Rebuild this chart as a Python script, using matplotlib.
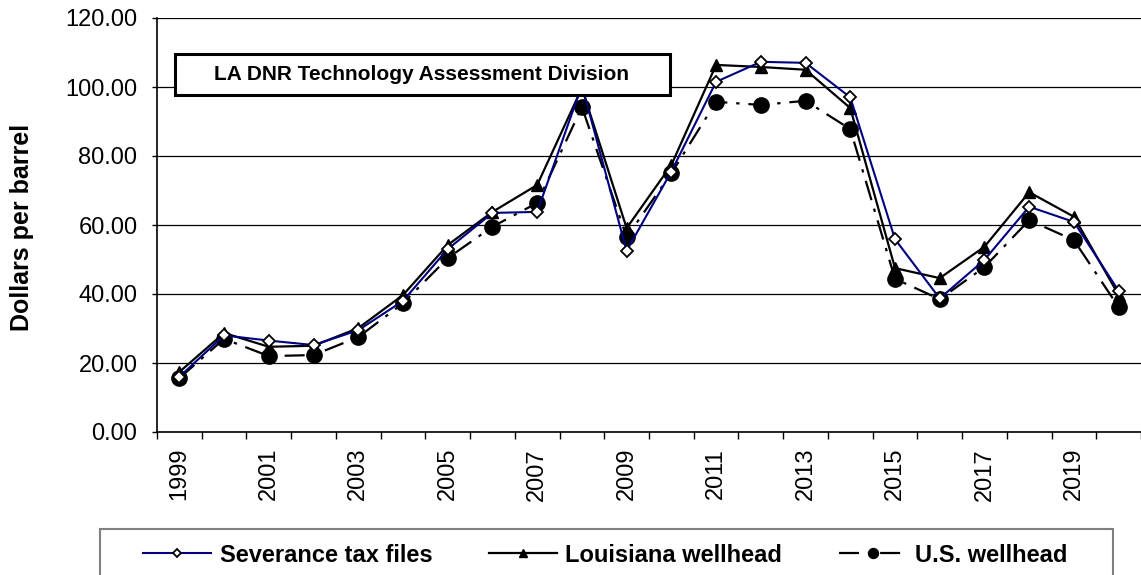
import matplotlib
matplotlib.use("Agg")
import matplotlib.pyplot as plt
from matplotlib.patches import Rectangle
import numpy as np

plt.rcParams['font.family'] = ['Liberation Sans', 'DejaVu Sans']

years = list(range(1999, 2021))
severance = [16.0, 28.0, 26.5, 25.2, 29.5, 38.0, 53.0, 63.5, 63.8, 100.5, 52.5, 75.5,
             101.5, 107.3, 107.0, 97.0, 55.9, 38.7, 49.9, 65.3, 60.9, 40.9]
louisiana = [17.4, 28.7, 24.7, 25.0, 30.1, 39.7, 54.2, 63.8, 71.6, 99.7, 59.1, 77.4,
             106.4, 105.8, 105.0, 93.9, 47.5, 44.6, 53.7, 69.5, 62.4, 39.7]
us_wellhead = [15.6, 27.0, 22.0, 22.3, 27.5, 37.3, 50.4, 59.5, 66.4, 94.2, 56.5, 75.0,
               95.7, 94.8, 96.0, 87.8, 44.4, 38.5, 47.8, 61.4, 55.6, 36.2]

W, H = 1141, 575
fig = plt.figure(figsize=(W / 100, H / 100), dpi=100)
ax = fig.add_axes([157 / W, 1 - 432 / H, 1 - 157 / W, (432 - 18) / H])

x = np.arange(len(years))
ax.plot(x, severance, color='#000080', lw=1.5, marker='D', ms=6.5, mfc='white',
        mec='black', mew=1.3, label='Severance tax files', zorder=4)
ax.plot(x, louisiana, color='black', lw=1.6, marker='^', ms=9, mfc='black',
        mec='black', label='Louisiana wellhead', zorder=3)
ax.plot(x, us_wellhead, color='black', lw=1.6, marker='o', ms=11, mfc='black',
        mec='black', dashes=[9, 4, 1.5, 4], label='U.S. wellhead', zorder=2)

ax.set_xlim(-0.5, len(years) - 0.5)
ax.set_ylim(0, 120)
ax.set_yticks(np.arange(0, 121, 20))
ax.set_yticklabels(['%.2f' % v for v in np.arange(0, 121, 20)], fontsize=17)
ax.yaxis.grid(True, color='black', lw=0.9)
ax.set_axisbelow(True)

ax.set_xticks(x[::2])
ax.set_xticklabels([str(y) for y in years[::2]], rotation=90, fontsize=17)
ax.set_xticks(np.arange(-0.5, len(years), 1), minor=True)
ax.tick_params(axis='x', which='major', length=0, pad=11.5)
ax.tick_params(axis='x', which='minor', length=5, width=1)
ax.tick_params(axis='y', length=3.6, width=1, pad=10.5)

for s in ['top', 'right']:
    ax.spines[s].set_visible(False)
ax.spines['left'].set_linewidth(1.2)
ax.spines['bottom'].set_linewidth(1.2)

fig.text(22 / W, 1 - 227 / H, 'Dollars per barrel', rotation=90, fontsize=18,
         fontweight='bold', ha='center', va='center')

# title box
fig.patches.append(Rectangle((175 / W, 1 - 95 / H), 495 / W, 41 / H, transform=fig.transFigure,
                             fc='white', ec='black', lw=2.2, zorder=5))
fig.text(422 / W, 1 - 74 / H, 'LA DNR Technology Assessment Division', fontsize=15,
         fontweight='bold', ha='center', va='center', zorder=6)

# legend box
fig.patches.append(Rectangle((100 / W, -0.05), 1013 / W, 0.05 + 1 - 529 / H,
                             transform=fig.transFigure, fc='white', ec='#808080', lw=1.5,
                             zorder=1))
leg = fig.legend(loc='center left', bbox_to_anchor=(143 / W, 1 - 555 / H), ncol=3,
                 frameon=False, prop={'size': 17, 'weight': 'bold'}, handlelength=2.9,
                 handletextpad=0.34, columnspacing=2.4, borderpad=0, borderaxespad=0,
                 markerscale=0.65)
leg.set_zorder(2)

fig.savefig('out.png', dpi=100)
